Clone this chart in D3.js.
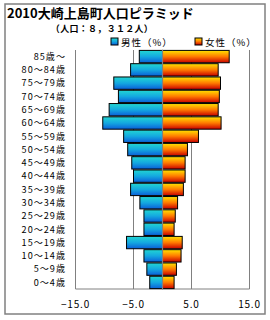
<!DOCTYPE html>
<html>
<head>
<meta charset="utf-8">
<script src="https://cdn.jsdelivr.net/npm/d3@7"></script>
<style>
  body { margin: 0; background: #fff; }
  svg text { font-family: "Noto Sans CJK JP", "Noto Sans", sans-serif; fill: #000; }
</style>
</head>
<body>
<svg id="chart" width="270" height="320"></svg>
<script>
const ageGroups = ['85歳〜', '80〜84歳', '75〜79歳', '70〜74歳', '65〜69歳', '60〜64歳',
  '55〜59歳', '50〜54歳', '45〜49歳', '40〜44歳', '35〜39歳', '30〜34歳',
  '25〜29歳', '20〜24歳', '15〜19歳', '10〜14歳', '5〜9歳', '0〜4歳'];
const male = [4.0, 5.5, 8.4, 7.6, 9.2, 10.3, 6.7, 6.0, 5.3, 5.0, 5.5, 3.9, 3.2, 3.2, 6.2, 3.2, 2.7, 2.2];
const female = [11.5, 9.6, 10.0, 9.8, 9.6, 10.1, 6.2, 4.3, 3.9, 3.9, 3.6, 2.6, 2.2, 2.0, 3.4, 3.2, 2.4, 2.0];
const ticks = [-15, -5, 5, 15];

const svg = d3.select('#chart');

const defs = svg.append('defs');
function grad(id, stops) {
  const g = defs.append('linearGradient').attr('id', id)
    .attr('x1', 0).attr('y1', 0).attr('x2', 0).attr('y2', 1);
  stops.forEach(s => g.append('stop').attr('offset', s[0]).attr('stop-color', s[1]));
}
grad('gMale', [[0, '#22d6d2'], [0.5, '#14a8e0'], [1, '#0a5ed8']]);
grad('gFemale', [[0, '#ffe400'], [0.5, '#ff7a00'], [1, '#c80000']]);

// outer frame
svg.append('rect').attr('x', 5).attr('y', 4).attr('width', 260).attr('height', 310)
  .attr('fill', 'none').attr('stroke', '#808080').attr('stroke-width', 1.5);

const x = d3.scaleLinear().domain([-15, 15]).range([75.5, 249.5]);
const y = d3.scaleBand().domain(ageGroups).range([50, 289]).paddingInner(0.07).paddingOuter(0.03);

// grid lines
svg.selectAll('line.grid').data([-5, 5]).join('line').attr('class', 'grid')
  .attr('x1', d => x(d)).attr('x2', d => x(d)).attr('y1', 50).attr('y2', 289)
  .attr('stroke', '#808080').attr('stroke-width', 1);

// plot border (left, bottom, right)
svg.append('path')
  .attr('d', `M${x(-15)},50V289H${x(15)}V50`)
  .attr('fill', 'none').attr('stroke', '#808080').attr('stroke-width', 1);

svg.selectAll('rect.male').data(male).join('rect').attr('class', 'male')
  .attr('x', d => x(-d)).attr('y', (d, i) => y(ageGroups[i]))
  .attr('width', d => x(0) - x(-d)).attr('height', y.bandwidth())
  .attr('fill', 'url(#gMale)').attr('stroke', '#000').attr('stroke-width', 1);

svg.selectAll('rect.female').data(female).join('rect').attr('class', 'female')
  .attr('x', x(0)).attr('y', (d, i) => y(ageGroups[i]))
  .attr('width', d => x(d) - x(0)).attr('height', y.bandwidth())
  .attr('fill', 'url(#gFemale)').attr('stroke', '#000').attr('stroke-width', 1);

// center axis
svg.append('line').attr('x1', x(0)).attr('x2', x(0)).attr('y1', 50).attr('y2', 289)
  .attr('stroke', '#808080').attr('stroke-width', 1.2);

// category labels
svg.selectAll('text.cat').data(ageGroups).join('text').attr('class', 'cat')
  .attr('x', 66).attr('y', d => y(d) + y.bandwidth() / 2)
  .attr('dy', '0.36em').attr('text-anchor', 'end')
  .attr('font-size', 9.1).attr('letter-spacing', 1).text(d => d);

// tick labels
svg.selectAll('text.tick').data(ticks).join('text').attr('class', 'tick')
  .attr('x', d => x(d)).attr('y', 304).attr('dy', '0.36em').attr('text-anchor', 'middle')
  .attr('font-size', 10).attr('letter-spacing', 0.8)
  .text(d => d3.format('.1f')(d).replace('-', '−'));

// title
svg.append('text').attr('x', 7).attr('y', 18).attr('font-size', 13).attr('font-weight', 'bold')
  .text('2010大崎上島町人口ピラミッド');
svg.append('text').attr('x', 102).attr('y', 32).attr('text-anchor', 'middle')
  .attr('font-size', 9).attr('font-weight', 'bold').attr('letter-spacing', 0.3)
  .text('（人口：８，３１２人）');

// legend
const legend = [['男性（%）', 'gMale', 111], ['女性（%）', 'gFemale', 195]];
legend.forEach(l => {
  svg.append('rect').attr('x', l[2]).attr('y', 38).attr('width', 7).attr('height', 7)
    .attr('fill', `url(#${l[1]})`).attr('stroke', '#000').attr('stroke-width', 1);
  svg.append('text').attr('x', l[2] + 10).attr('y', 45.5)
    .attr('font-size', 9.5).attr('letter-spacing', 1).text(l[0]);
});
</script>
</body>
</html>
